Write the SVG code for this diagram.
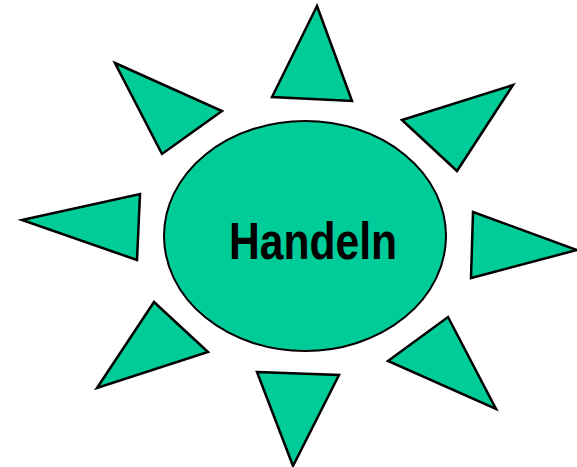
<svg xmlns="http://www.w3.org/2000/svg" width="577" height="467" viewBox="0 0 577 467">
<style>
.ray{fill:#00CC99;stroke:#000;stroke-width:2.5;stroke-linejoin:miter}
.sun{fill:#00CC99;stroke:#000;stroke-width:2}
.lbl{font-family:"Liberation Sans",Arial,sans-serif;font-weight:bold;font-size:52px;fill:#000}
</style>
<rect width="577" height="467" fill="#fff"/>
<g id="ray-top"><polygon class="ray" points="317,6 272,97 352,101"/></g>
<g id="ray-upper-left"><polygon class="ray" points="115,63 222,111 162,154"/></g>
<g id="ray-upper-right"><polygon class="ray" points="402,120 513,85 457,171"/></g>
<g id="ray-left"><polygon class="ray" points="22,220 140,194 137,260"/></g>
<g id="ray-right"><polygon class="ray" points="473,212 577,250 471,278"/></g>
<g id="ray-lower-left"><polygon class="ray" points="154,302 208,352 97,388"/></g>
<g id="ray-lower-right"><polygon class="ray" points="388,361 448,317 496,409"/></g>
<g id="ray-bottom"><polygon class="ray" points="257,372 339,375 293,466"/></g>
<g id="center">
<ellipse class="sun" cx="305" cy="236" rx="141" ry="115"/>
<text class="lbl" x="229" y="259" textLength="168" lengthAdjust="spacingAndGlyphs">Handeln</text>
</g>
</svg>
